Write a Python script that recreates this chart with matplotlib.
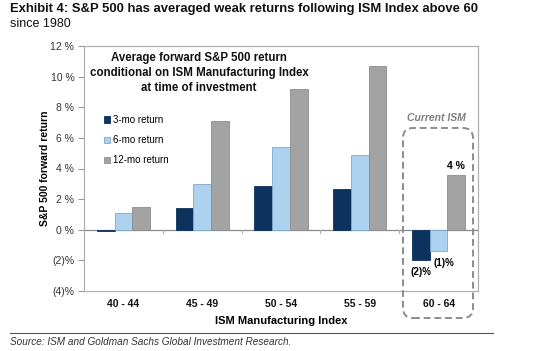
import matplotlib
matplotlib.use("Agg")
import matplotlib.pyplot as plt
import numpy as np
from matplotlib.patches import Patch, FancyBboxPatch
from matplotlib.lines import Line2D

plt.rcParams['font.family'] = ['Liberation Sans', 'DejaVu Sans']

categories = ["40 - 44", "45 - 49", "50 - 54", "55 - 59", "60 - 64"]
series_names = ["3-mo return", "6-mo return", "12-mo return"]
ret_3mo = [-0.05, 1.42, 2.84, 2.67, -1.95]
ret_6mo = [1.09, 3.0, 5.4, 4.85, -1.38]
ret_12mo = [1.46, 7.1, 9.18, 10.71, 3.55]
y_ticks = [-4, -2, 0, 2, 4, 6, 8, 10, 12]
y_tick_labels = ["(4)%", "(2)%", "0 %", "2 %", "4 %", "6 %", "8 %", "10 %", "12 %"]
current_labels = ["(2)%", "(1)%", "4 %"]

colors = ["#0c325e", "#acd2f0", "#a3a3a3"]
edges = ["#0c325e", "#7fa9cc", "#8c8c8c"]

W, H = 539, 351
fig = plt.figure(figsize=(W / 100, H / 100), dpi=100)
ax = fig.add_axes([84 / W, 1 - 291 / H, (478 - 84) / W, (291 - 46) / H])

x = np.arange(len(categories))
bw = 0.225
series = [ret_3mo, ret_6mo, ret_12mo]
for i, vals in enumerate(series):
    ax.bar(x + (i - 1) * bw, vals, width=bw, color=colors[i], edgecolor=edges[i],
           linewidth=0.6, label=series_names[i], zorder=3)

ax.set_xlim(-0.5, len(categories) - 0.5)
ax.set_ylim(-4, 12)
ax.set_yticks(y_ticks)
ax.set_yticklabels(y_tick_labels, fontsize=7.5, color="#333333")
ax.set_xticks(x)
ax.set_xticklabels(categories, fontsize=7.5, fontweight="bold", color="#111111")
ax.tick_params(axis="x", length=0, pad=6)
ax.tick_params(axis="y", length=4, width=0.8, color="#999999", pad=3, direction="out")

for s in ax.spines.values():
    s.set_color("#b0b0b0")
    s.set_linewidth(0.9)

# zero line with category boundary ticks
ax.axhline(0, color="#8a8a8a", linewidth=0.9, zorder=2)
for bnd in np.arange(0.5, len(categories) - 0.5, 1.0):
    ax.plot([bnd, bnd], [0, -0.2], color="#b0b0b0", linewidth=0.8, zorder=2)

ax.set_ylabel("S&P 500 forward return", fontsize=7.5, fontweight="bold", labelpad=0)
ax.set_xlabel("ISM Manufacturing Index", fontsize=8, fontweight="bold", labelpad=5)

# legend
handles = [Patch(facecolor=colors[i], edgecolor=edges[i], linewidth=0.6) for i in range(3)]
ax.legend(handles, series_names, loc="upper left", bbox_to_anchor=(100 / W, 1 - 111 / H),
          bbox_transform=fig.transFigure, frameon=False, fontsize=7,
          handlelength=0.6, handleheight=0.6, handletextpad=0.3, labelspacing=1.05,
          borderaxespad=0)

# inner title
ax.text(199 / W, 1 - 73 / H,
        "Average forward S&P 500 return\nconditional on ISM Manufacturing Index\nat time of investment",
        transform=fig.transFigure, ha="center", va="center", fontsize=8.3, fontweight="bold",
        linespacing=1.3, color="#111111")

# value labels for current ISM group
last = len(categories) - 1
ax.annotate(current_labels[0], (x[last] - bw, ret_3mo[last]), xytext=(0, -5),
            textcoords="offset points", ha="center", va="top", fontsize=7, fontweight="bold")
ax.annotate(current_labels[1], (x[last], ret_6mo[last]), xytext=(4, -5),
            textcoords="offset points", ha="center", va="top", fontsize=7, fontweight="bold")
ax.annotate(current_labels[2], (x[last] + bw, ret_12mo[last]), xytext=(0, 3),
            textcoords="offset points", ha="center", va="bottom", fontsize=7.5, fontweight="bold")

# dashed rounded box
box = FancyBboxPatch((4.03, 0.33), 0.70, 1.90, boxstyle="round,pad=0,rounding_size=0.1",
                     transform=fig.dpi_scale_trans, fill=False, edgecolor="#8c8c8c",
                     linewidth=1.4, linestyle=(0, (3.5, 2)), clip_on=False)
fig.add_artist(box)
fig.text(436 / W, 1 - 118 / H, "Current ISM", ha="center", va="center", fontsize=7.5,
         fontweight="bold", fontstyle="italic", color="#808080")

# titles
fig.text(10 / W, 1 - 9 / H, "Exhibit 4: S&P 500 has averaged weak returns following ISM Index above 60",
         ha="left", va="center", fontsize=9.4, fontweight="bold", color="#111111")
fig.text(10 / W, 1 - 24 / H, "since 1980", ha="left", va="center", fontsize=9, color="#111111")

# source line
fig.add_artist(Line2D([10 / W, 493 / W], [1 - 333 / H, 1 - 333 / H], transform=fig.transFigure,
                      color="#555555", linewidth=0.8))
fig.text(10 / W, 1 - 342 / H, "Source: ISM and Goldman Sachs Global Investment Research.",
         ha="left", va="center", fontsize=7.2, fontstyle="italic", color="#333333")

fig.savefig("out.png", dpi=100)
